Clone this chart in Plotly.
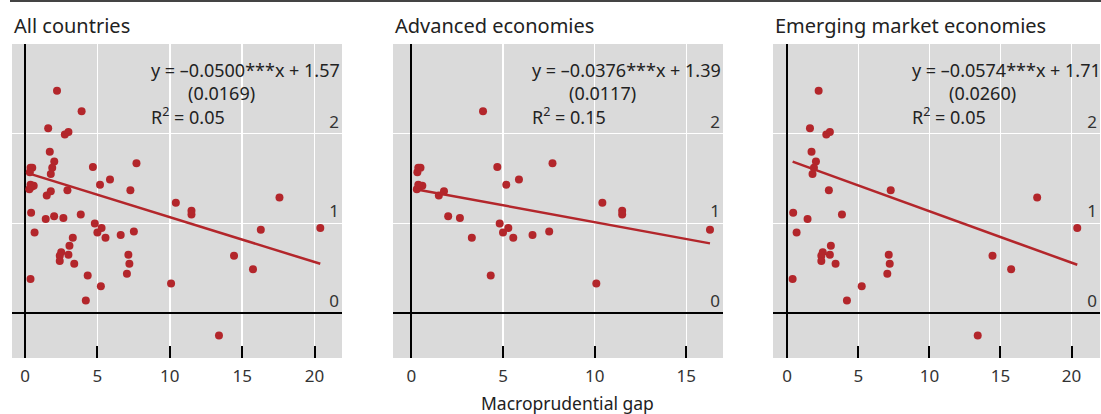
import plotly.graph_objects as go

# ---- data ----
ae_x = [3.91, 0.38, 0.50, 0.33, 0.30, 0.45, 0.60, 0.38, 1.50, 1.78, 2.01, 2.65, 3.30,
        4.69, 4.33, 5.18, 5.87, 4.82, 5.00, 5.29, 5.56, 6.61, 7.52, 7.70, 10.42,
        11.50, 11.50, 10.09, 16.29]
ae_y = [2.25, 1.62, 1.62, 1.57, 1.38, 1.41, 1.42, 1.43, 1.31, 1.36, 1.08, 1.06, 0.84,
        1.63, 0.42, 1.43, 1.49, 1.00, 0.90, 0.95, 0.84, 0.87, 0.91, 1.67, 1.23,
        1.14, 1.10, 0.33, 0.93]

eme_x = [2.21, 1.60, 2.75, 3.00, 1.71, 2.02, 1.88, 1.78, 2.93, 7.28, 0.42, 1.43, 3.85,
         0.66, 3.07, 2.50, 2.40, 2.40, 3.00, 3.40, 7.14, 7.21, 7.04, 0.38, 5.24, 4.20,
         17.58, 20.40, 14.44, 15.75, 13.40]
eme_y = [2.48, 2.06, 1.99, 2.02, 1.80, 1.69, 1.62, 1.55, 1.37, 1.37, 1.12, 1.05, 1.10,
         0.90, 0.75, 0.68, 0.64, 0.58, 0.65, 0.55, 0.65, 0.55, 0.44, 0.38, 0.30, 0.14,
         1.29, 0.95, 0.64, 0.49, -0.25]

panel_titles = ["All countries", "Advanced economies", "Emerging market economies"]
slopes = [-0.0500, -0.0376, -0.0574]
intercepts = [1.57, 1.39, 1.71]
slope_labels = ["–0.0500", "–0.0376", "–0.0574"]
intercept_labels = ["1.57", "1.39", "1.71"]
std_errors = ["(0.0169)", "(0.0117)", "(0.0260)"]
r2_labels = ["0.05", "0.15", "0.05"]
x_ranges = [[-0.9, 21.9], [-1, 17], [-1, 22]]
x_ticks = [[0, 5, 10, 15, 20], [0, 5, 10, 15], [0, 5, 10, 15, 20]]
y_ticks = [0, 1, 2]
x_title = "Macroprudential gap"

all_x = ae_x + eme_x
all_y = ae_y + eme_y
datasets = [(all_x, all_y), (ae_x, ae_y), (eme_x, eme_y)]

# ---- layout geometry (pixels) ----
W, H = 1101, 414
panel_px = [(12, 342), (393, 723), (773, 1100)]
top_px, bot_px = 44, 358

def fx(px):
    return px / W

def fy(py):
    return (H - py) / H

RED = "#b3262b"
FONT = "Noto Sans, Open Sans, sans-serif"
TXT = "#222"

fig = go.Figure()
annotations = []

for i, ((xs, ys), (l, r)) in enumerate(zip(datasets, panel_px)):
    n = "" if i == 0 else str(i + 1)
    xa, ya = "x" + n, "y" + n
    fig.add_trace(go.Scatter(x=xs, y=ys, mode="markers", xaxis=xa, yaxis=ya,
                             marker=dict(color=RED, size=8), showlegend=False,
                             hoverinfo="skip"))
    lx = [min(xs), max(xs)]
    ly = [intercepts[i] + slopes[i] * v for v in lx]
    fig.add_trace(go.Scatter(x=lx, y=ly, mode="lines", xaxis=xa, yaxis=ya,
                             line=dict(color=RED, width=2.5), showlegend=False,
                             hoverinfo="skip"))
    axis_common = dict(showgrid=True, gridcolor="white", gridwidth=1.5,
                       zeroline=True, zerolinecolor="black", zerolinewidth=2,
                       showline=False, fixedrange=True)
    fig.layout["xaxis" + n] = dict(
        domain=[fx(l), fx(r)], anchor=ya, range=x_ranges[i],
        tickvals=x_ticks[i], ticks="inside", ticklen=12, tickwidth=2,
        tickcolor="black", tickfont=dict(size=17, color="#333", family=FONT),
        ticklabelstandoff=6,
        **axis_common)
    fig.layout["yaxis" + n] = dict(
        domain=[fy(bot_px), fy(top_px)], anchor=xa, range=[-0.5, 3],
        tickvals=y_ticks, side="right", ticklabelposition="inside top",
        ticks="", tickfont=dict(size=17, color="#333", family=FONT),
        **axis_common)

    # panel title
    annotations.append(dict(text=panel_titles[i], xref="paper", yref="paper",
                            x=fx(l), y=fy(26), xanchor="left", yanchor="middle",
                            showarrow=False,
                            font=dict(size=20, color=TXT, family=FONT)))
    # regression text
    tl = l + 137
    annotations.append(dict(text=f"y = {slope_labels[i]}***x + {intercept_labels[i]}",
                            xref="paper", yref="paper", x=fx(tl), y=fy(70),
                            xanchor="left", yanchor="middle", showarrow=False,
                            font=dict(size=18, color=TXT, family=FONT)))
    annotations.append(dict(text=std_errors[i], xref="paper", yref="paper",
                            x=fx(tl + 37), y=fy(93), xanchor="left", yanchor="middle",
                            showarrow=False,
                            font=dict(size=18, color=TXT, family=FONT)))
    annotations.append(dict(text=f"R<sup>2</sup> = {r2_labels[i]}",
                            xref="paper", yref="paper", x=fx(tl), y=fy(116),
                            xanchor="left", yanchor="middle", showarrow=False,
                            font=dict(size=18, color=TXT, family=FONT)))

annotations.append(dict(text=x_title, xref="paper", yref="paper", x=fx(567), y=fy(403),
                        xanchor="center", yanchor="middle", showarrow=False,
                        font=dict(size=17.5, color=TXT, family=FONT)))

fig.update_layout(
    width=W, height=H, margin=dict(l=0, r=0, t=0, b=0),
    paper_bgcolor="white", plot_bgcolor="#dadada",
    annotations=annotations,
    shapes=[dict(type="line", xref="paper", yref="paper", x0=fx(10), x1=1,
                 y0=fy(1), y1=fy(1), line=dict(color="#444", width=2))],
    font=dict(family=FONT),
)

fig.write_html("out.html", config={"displayModeBar": False, "staticPlot": True},
               post_script="document.body.style.margin='0';document.body.style.padding='0';")
